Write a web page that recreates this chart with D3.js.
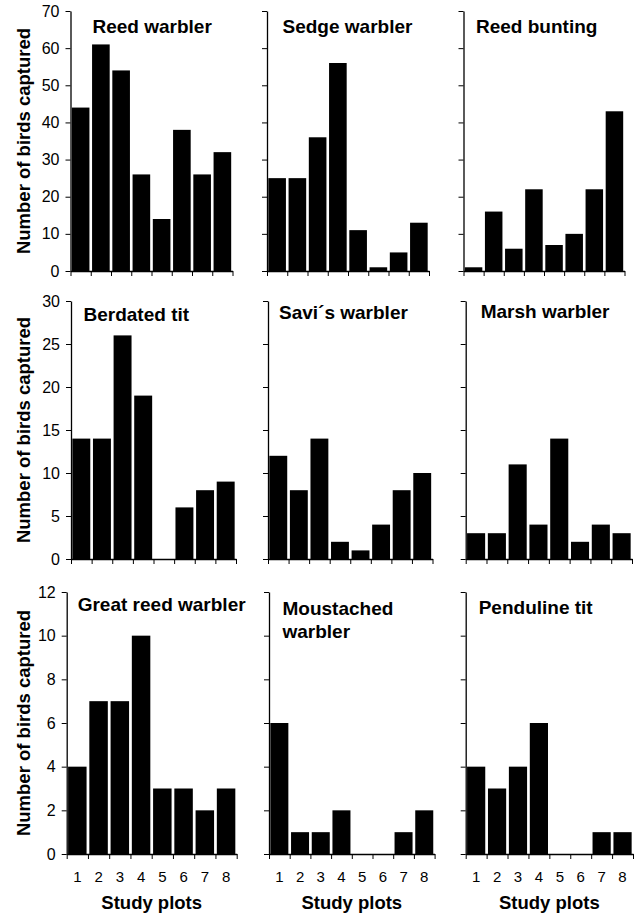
<!DOCTYPE html>
<html>
<head>
<meta charset="utf-8">
<title>Number of birds captured per study plot</title>
<script src="https://d3js.org/d3.v7.min.js"></script>
<style>
  body { margin: 0; background: #fff; }
  svg { font-family: "Liberation Sans", Arial, Helvetica, sans-serif; }
  .title { font-weight: bold; font-size: 19px; fill: #000; }
  .label { font-weight: bold; font-size: 18.5px; fill: #000; }
  .yaxis .tick text { font-size: 16px; fill: #000; }
  .xlab .tick text { font-size: 15px; fill: #000; }
  .domain { stroke: #000; stroke-width: 1.3px; }
  .tick line { stroke: #000; stroke-width: 1px; }
  .bar { fill: #000; }
</style>
</head>
<body>
<script>
// ---- data ----
var plots = ["1", "2", "3", "4", "5", "6", "7", "8"];

var species = [
  "Reed warbler", "Sedge warbler", "Reed bunting",
  "Berdated tit", "Savi\u00b4s warbler", "Marsh warbler",
  "Great reed warbler", "Moustached\nwarbler", "Penduline tit"
];

var reedWarbler   = [44, 61, 54, 26, 14, 38, 26, 32];
var sedgeWarbler  = [25, 25, 36, 56, 11, 1, 5, 13];
var reedBunting   = [1, 16, 6, 22, 7, 10, 22, 43];
var beardedTit    = [14, 14, 26, 19, 0, 6, 8, 9];
var savisWarbler  = [12, 8, 14, 2, 1, 4, 8, 10];
var marshWarbler  = [3, 3, 11, 4, 14, 2, 4, 3];
var greatReed     = [4, 7, 7, 10, 3, 3, 2, 3];
var moustached    = [6, 1, 1, 2, 0, 0, 1, 2];
var penduline     = [4, 3, 4, 6, 0, 0, 1, 1];

var counts = [reedWarbler, sedgeWarbler, reedBunting,
              beardedTit, savisWarbler, marshWarbler,
              greatReed, moustached, penduline];

var rowTicks = [
  [0, 10, 20, 30, 40, 50, 60, 70],
  [0, 5, 10, 15, 20, 25, 30],
  [0, 2, 4, 6, 8, 10, 12]
];

var yLabel = "Number of birds captured";
var xLabel = "Study plots";

var rows = [
  { top: 11, bottom: 271 },
  { top: 301, bottom: 559 },
  { top: 592, bottom: 854 }
];
var cols = [
  [[70.5, 232.5], [267, 429], [463.5, 624.5]],
  [[71, 236], [268, 432.5], [465.7, 632]],
  [[66.7, 236.7], [269, 434.6], [465.7, 633]]
];
// title offset from panel left, baseline y
var titlePos = [
  [22, 33], [15.5, 33], [12.5, 33],
  [12.5, 320.5], [11, 319], [15, 317.5],
  [11, 610.5], [13.5, 614.5], [13, 613.5]
];

var svg = d3.select("body").append("svg")
    .attr("width", 637)
    .attr("height", 915);

species.forEach(function(name, i) {
  var r = Math.floor(i / 3), c = i % 3;
  var x0 = cols[r][c][0], x1 = cols[r][c][1];
  var ticks = rowTicks[r];
  var top = rows[r].top, bottom = rows[r].bottom;

  var x = d3.scaleBand()
      .domain(plots)
      .range([x0, x1])
      .paddingInner(0.13)
      .paddingOuter(0.065);

  var xEdge = d3.scaleLinear().domain([0, plots.length]).range([x0, x1]);

  var y = d3.scaleLinear()
      .domain([0, d3.max(ticks)])
      .range([bottom, top]);

  var g = svg.append("g");

  g.selectAll(".bar")
    .data(counts[i])
    .enter().append("rect")
      .attr("class", "bar")
      .attr("x", function(d, k) { return x(plots[k]); })
      .attr("width", x.bandwidth())
      .attr("y", function(d) { return y(d); })
      .attr("height", function(d) { return bottom - y(d); });

  // x axis with ticks on band edges
  g.append("g")
      .attr("transform", "translate(0," + bottom + ")")
      .call(d3.axisBottom(xEdge)
        .tickValues(d3.range(0, plots.length + 1))
        .tickSize(5)
        .tickSizeOuter(0)
        .tickFormat(""));

  // y axis
  var yAxis = d3.axisLeft(y)
      .tickValues(ticks)
      .tickSize(5)
      .tickSizeOuter(0)
      .tickPadding(6);
  if (c > 0) yAxis.tickFormat("");
  g.append("g")
      .attr("class", "yaxis")
      .attr("transform", "translate(" + x0 + ",0)")
      .call(yAxis);

  // plot numbers and axis title under the bottom row
  if (r === 2) {
    var xl = g.append("g")
        .attr("class", "xlab")
        .attr("transform", "translate(0," + bottom + ")")
        .call(d3.axisBottom(x).tickSize(0).tickPadding(17));
    xl.select(".domain").remove();

    g.append("text")
        .attr("class", "label")
        .attr("x", (x0 + x1) / 2)
        .attr("y", 909)
        .attr("text-anchor", "middle")
        .text(xLabel);
  }

  // species title
  var t = g.append("text")
      .attr("class", "title")
      .attr("x", x0 + titlePos[i][0])
      .attr("y", titlePos[i][1]);
  name.split("\n").forEach(function(line, k) {
    t.append("tspan")
        .attr("x", x0 + titlePos[i][0])
        .attr("dy", k === 0 ? 0 : 23)
        .text(line);
  });

  if (c === 0) {
    svg.append("text")
        .attr("class", "label")
        .attr("text-anchor", "middle")
        .attr("transform", "translate(30," + (top + bottom) / 2 + ") rotate(-90)")
        .text(yLabel);
  }
});
</script>
</body>
</html>
